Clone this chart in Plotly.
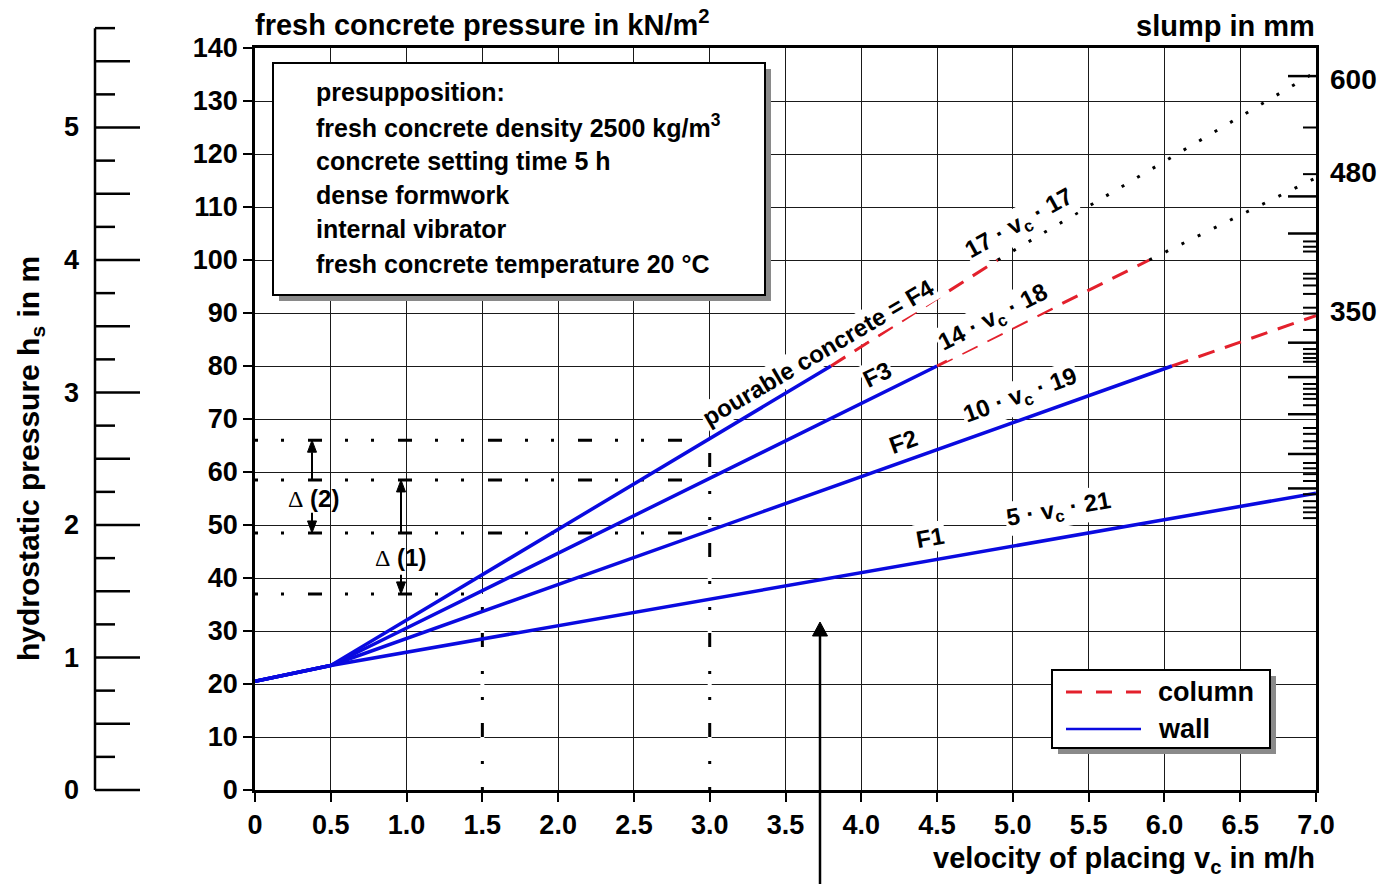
import plotly.graph_objects as go

# ---------------- data ----------------
vc_ticks = [0, 0.5, 1.0, 1.5, 2.0, 2.5, 3.0, 3.5, 4.0, 4.5, 5.0, 5.5, 6.0, 6.5, 7.0]
vc_ticklabels = ["0", "0.5", "1.0", "1.5", "2.0", "2.5", "3.0", "3.5", "4.0", "4.5",
                 "5.0", "5.5", "6.0", "6.5", "7.0"]
p_ticks = [0, 10, 20, 30, 40, 50, 60, 70, 80, 90, 100, 110, 120, 130, 140]

# wall (blue, solid)
wall_F1_vc = [0.0, 0.5, 7.0]
wall_F1_p = [20.5, 23.5, 56.0]
wall_F2_vc = [0.0, 0.5, 6.05]
wall_F2_p = [20.5, 23.5, 80.0]
wall_F3_vc = [0.0, 0.5, 4.5]
wall_F3_p = [20.5, 23.5, 80.0]
wall_F4_vc = [0.0, 0.5, 3.8]
wall_F4_p = [20.5, 23.5, 80.0]

# column (red, dashed)
col_F2_vc = [6.05, 7.0]
col_F2_p = [80.0, 89.5]
col_F3_vc = [4.5, 5.9]
col_F3_p = [80.0, 100.0]
col_F4_vc = [3.8, 4.9]
col_F4_p = [80.0, 100.0]

# extrapolation (black, dotted)
ext_F3_vc = [5.9, 7.0]
ext_F3_p = [100.0, 115.5]
ext_F4_vc = [4.9, 7.0]
ext_F4_p = [100.0, 135.5]

# reading example (dash-dot)
ref_levels_p = [66.0, 58.5, 48.5, 37.0]
ref_levels_vc_end = [2.95, 2.95, 2.95, 1.45]
ref_vert_vc = [1.5, 3.0]
ref_vert_p_top = [37.0, 66.0]

# hydrostatic scale (m), gamma = 25 kN/m3
hs_ticks = [0.0, 0.25, 0.5, 0.75, 1.0, 1.25, 1.5, 1.75, 2.0, 2.25, 2.5, 2.75,
            3.0, 3.25, 3.5, 3.75, 4.0, 4.25, 4.5, 4.75, 5.0, 5.25, 5.5, 5.75]
hs_labels = [0, 1, 2, 3, 4, 5]
gamma = 25.0

# slump scale (mm) tick positions, in pressure units
slump_long_p = [134.7, 112.0, 105.0, 84.4, 77.9, 70.9, 63.4, 56.9]
slump_short_p = [125.0, 116.2, 103.5, 102.5, 101.6, 97.4, 96.5, 95.2, 93.6, 91.0,
                 89.9, 86.8, 83.2, 82.3, 81.5, 80.8, 76.6, 75.7, 74.7, 73.8, 72.6,
                 68.3, 67.2, 65.8, 64.5, 61.7, 60.7, 59.6, 58.3, 55.8, 54.5, 53.3,
                 52.4, 51.3]
slump_labels = ["600", "480", "350"]
slump_label_p = [134.0, 116.6, 90.2]

presupposition = ["presupposition:",
                  "fresh concrete density 2500 kg/m<sup>3</sup>",
                  "concrete setting time 5 h",
                  "dense formwork",
                  "internal vibrator",
                  "fresh concrete temperature 20 °C"]

# ---------------- geometry helpers ----------------
W, H = 1383, 884
X0, X1, Y0, Y1 = 255, 1316, 790, 48
XMAX, PMAX = 7.0, 140.0
FONT = "Liberation Sans, Arial, sans-serif"
BLUE = "#0a0ae0"
RED = "#e3202c"


def px(x):
    return x / W


def py(y):
    return 1 - y / H


def p2pix(p):
    return Y0 - p * (Y0 - Y1) / PMAX


def pix2p(y):
    return (Y0 - y) * PMAX / (Y0 - Y1)


def pix2v(x):
    return (x - X0) * XMAX / (X1 - X0)


fig = go.Figure()

# white covers for gridlines under the vertical dash-dot lines
for v, top in zip(ref_vert_vc, ref_vert_p_top):
    fig.add_trace(go.Scatter(x=[v, v], y=[0, top], mode="lines",
                             line=dict(color="white", width=4),
                             hoverinfo="skip", showlegend=False))

DASHDOT = "3px,23px,3px,24px,14px,23px"
for lev, vend in zip(ref_levels_p, ref_levels_vc_end):
    fig.add_trace(go.Scatter(x=[0, vend], y=[lev, lev], mode="lines",
                             line=dict(color="black", width=3, dash=DASHDOT),
                             hoverinfo="skip", showlegend=False))
for v, top in zip(ref_vert_vc, ref_vert_p_top):
    fig.add_trace(go.Scatter(x=[v, v], y=[0, top], mode="lines",
                             line=dict(color="black", width=3, dash=DASHDOT),
                             hoverinfo="skip", showlegend=False))

for name, xs, ys in [("F1", wall_F1_vc, wall_F1_p), ("F2", wall_F2_vc, wall_F2_p),
                     ("F3", wall_F3_vc, wall_F3_p), ("F4", wall_F4_vc, wall_F4_p)]:
    fig.add_trace(go.Scatter(x=xs, y=ys, mode="lines", name="wall " + name,
                             line=dict(color=BLUE, width=3.5), showlegend=False))

for name, xs, ys in [("F2", col_F2_vc, col_F2_p), ("F3", col_F3_vc, col_F3_p),
                     ("F4", col_F4_vc, col_F4_p)]:
    fig.add_trace(go.Scatter(x=xs, y=ys, mode="lines", name="column " + name,
                             line=dict(color=RED, width=3, dash="17px,11px"),
                             showlegend=False))

for name, xs, ys in [("F3", ext_F3_vc, ext_F3_p), ("F4", ext_F4_vc, ext_F4_p)]:
    fig.add_trace(go.Scatter(x=xs, y=ys, mode="lines", name="extrapolation " + name,
                             line=dict(color="black", width=3, dash="3px,15px"),
                             showlegend=False))

shapes = []
annotations = []


def ann(text, x, y, size=22, xanchor="center", yanchor="middle", xref="paper",
        yref="paper", angle=0, bg=None, **kw):
    d = dict(text=text, x=x, y=y, xref=xref, yref=yref, showarrow=False,
             xanchor=xanchor, yanchor=yanchor, textangle=angle,
             font=dict(family=FONT, size=size, color="black", weight="bold"))
    if bg:
        d["bgcolor"] = bg
        d["borderpad"] = 1
    d.update(kw)
    annotations.append(d)


def arrow_shape(xp, y_head, y_tail, hw, hh, lw):
    """vertical arrow drawn with shapes, pixel coordinates"""
    sgn = 1 if y_tail > y_head else -1
    base = y_head + sgn * hh
    shapes.append(dict(type="line", xref="paper", yref="paper",
                       x0=px(xp), x1=px(xp), y0=py(y_tail), y1=py(base),
                       line=dict(color="black", width=lw)))
    path = "M {a},{b} L {c},{d} L {e},{f} Z".format(
        a=px(xp), b=py(y_head), c=px(xp - hw / 2), d=py(base),
        e=px(xp + hw / 2), f=py(base))
    shapes.append(dict(type="path", xref="paper", yref="paper", path=path,
                       fillcolor="black", line=dict(color="black", width=1)))


# ---------- left hydrostatic scale ----------
LX = 95
shapes.append(dict(type="line", xref="paper", yref="paper",
                   x0=px(LX), x1=px(LX), y0=py(p2pix(0)), y1=py(p2pix(hs_ticks[-1] * gamma)),
                   line=dict(color="black", width=2.5)))
for h in hs_ticks:
    if abs(h - round(h)) < 1e-9:
        ln = 45
    elif abs(h * 2 - round(h * 2)) < 1e-9:
        ln = 35
    else:
        ln = 20
    yy = py(p2pix(h * gamma))
    shapes.append(dict(type="line", xref="paper", yref="paper",
                       x0=px(LX), x1=px(LX + ln), y0=yy, y1=yy,
                       line=dict(color="black", width=2.5)))
for h in hs_labels:
    ann(str(h), px(71), py(p2pix(h * gamma)), size=27)
ann("hydrostatic pressure h<sub>s</sub> in m", px(30), py(459), size=30, angle=-90)

# ---------- right slump scale ----------
for p in slump_long_p:
    shapes.append(dict(type="line", xref="paper", yref="y", x0=px(X1 - 28), x1=px(X1),
                       y0=p, y1=p, line=dict(color="black", width=2.5)))
for p in slump_short_p:
    shapes.append(dict(type="line", xref="paper", yref="y", x0=px(X1 - 13), x1=px(X1),
                       y0=p, y1=p, line=dict(color="black", width=2)))
for lab_, p in zip(slump_labels, slump_label_p):
    ann(lab_, px(1328), p, yref="y", size=28, xanchor="left")

# ---------- titles ----------
ann("fresh concrete pressure in kN/m<sup>2</sup>", px(253), py(23), size=29, xanchor="left")
ann("slump in mm", px(1317), py(26), size=29, xanchor="right")
ann("velocity of placing v<sub>c</sub> in m/h", px(1317), py(860), size=29, xanchor="right")

# ---------- presupposition box ----------
shapes.append(dict(type="rect", xref="paper", yref="paper", layer="above",
                   x0=px(279), x1=px(771), y0=py(69), y1=py(301),
                   fillcolor="#8a8a8a", line=dict(width=0)))
shapes.append(dict(type="rect", xref="paper", yref="paper", layer="above",
                   x0=px(273), x1=px(765), y0=py(63), y1=py(295),
                   fillcolor="white", line=dict(color="black", width=2)))
for i, t in enumerate(presupposition):
    ann(t, px(314), py(92 + i * 34.3), size=25, xanchor="left")

# ---------- legend box ----------
shapes.append(dict(type="rect", xref="paper", yref="paper", layer="above",
                   x0=px(1058), x1=px(1276), y0=py(676), y1=py(754),
                   fillcolor="#8a8a8a", line=dict(width=0)))
shapes.append(dict(type="rect", xref="paper", yref="paper", layer="above",
                   x0=px(1052), x1=px(1270), y0=py(670), y1=py(748),
                   fillcolor="white", line=dict(color="black", width=2)))
shapes.append(dict(type="line", xref="paper", yref="paper", layer="above",
                   x0=px(1066), x1=px(1141), y0=py(692), y1=py(692),
                   line=dict(color=RED, width=3, dash="16px,14px")))
shapes.append(dict(type="line", xref="paper", yref="paper", layer="above",
                   x0=px(1066), x1=px(1141), y0=py(729), y1=py(729),
                   line=dict(color=BLUE, width=2.5)))
ann("column", px(1156), py(692), size=27, xanchor="left")
ann("wall", px(1156), py(729), size=27, xanchor="left")

# ---------- line labels ----------
def lab(text, pxx, pyy, angle, size=24):
    ann(text, pix2v(pxx), pix2p(pyy), size=size, xref="x", yref="y", angle=angle, bg="white")


lab("pourable concrete = F4", 818, 352, -30.5)
lab("F3", 877, 374, -26)
lab("14 · v<sub>c</sub> · 18", 993, 318, -27)
lab("17 · v<sub>c</sub> · 17", 1019, 224, -29)
lab("10 · v<sub>c</sub> · 19", 1020, 396, -20)
lab("F2", 903, 441, -20)
lab("5 · v<sub>c</sub> · 21", 1058, 510, -10)
lab("F1", 930, 537, -10)

DELTA = "<span style='font-family:Liberation Serif;font-weight:normal'>Δ</span> (%s)"
ann(DELTA % "2", pix2v(313), pix2p(498), xref="x", yref="y", size=24)
ann(DELTA % "1", pix2v(400), pix2p(557), xref="x", yref="y", size=24)

# delta arrows (pixel geometry from pressure levels)
arrow_shape(312, p2pix(66.0), p2pix(58.5), 9, 12, 2)
arrow_shape(312, p2pix(48.5), p2pix(52.3), 9, 12, 2)
arrow_shape(401, p2pix(58.5), p2pix(48.5), 9, 12, 2)
arrow_shape(401, p2pix(37.0), p2pix(40.6), 9, 12, 2)
# big pointer arrow from below the axis
arrow_shape(820, 622, 884, 15, 14, 2.5)

axis_common = dict(showgrid=True, gridcolor="#1a1a1a", gridwidth=1.2,
                   showline=True, linecolor="black", linewidth=2.5, mirror=True,
                   ticks="outside", ticklen=9, tickwidth=2, tickcolor="black",
                   zeroline=False, automargin=False,
                   tickfont=dict(family=FONT, size=27, color="black", weight="bold"))

fig.update_layout(
    width=W, height=H,
    margin=dict(l=0, r=0, t=0, b=0),
    paper_bgcolor="white", plot_bgcolor="white",
    template="none",
    showlegend=False,
    xaxis=dict(domain=[px(X0), px(X1)], range=[0, XMAX], tickmode="array",
               tickvals=vc_ticks, ticktext=vc_ticklabels, **axis_common),
    yaxis=dict(domain=[py(Y0), py(Y1)], range=[0, PMAX], tickmode="array",
               tickvals=p_ticks, ticktext=[str(v) for v in p_ticks], **axis_common),
    shapes=shapes,
    annotations=annotations,
    font=dict(family=FONT, color="black"),
)

fig.write_html("out.html")
